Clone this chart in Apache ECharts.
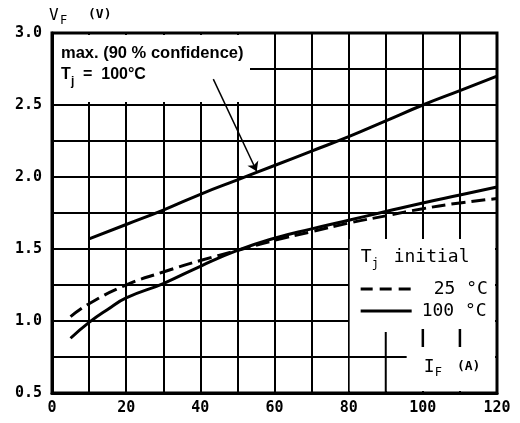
<!DOCTYPE html>
<html>
<head>
<meta charset="utf-8">
<script src="https://cdn.jsdelivr.net/npm/echarts@6/dist/echarts.min.js"></script>
<style>
  html, body { margin: 0; padding: 0; background: #fff; }
  #main { width: 520px; height: 423px; }
</style>
</head>
<body>
<div id="main"></div>
<script>
// forward current (A)
var maxIf = [10, 20, 30, 40, 50, 60, 70, 80, 90, 100, 110, 120];
var maxVf = [1.57, 1.67, 1.77, 1.88, 1.98, 2.08, 2.18, 2.28, 2.39, 2.50, 2.60, 2.70];

var if25 = [5, 10, 20, 30, 40, 50, 60, 70, 80, 90, 100, 110, 120];
var vf25 = [1.03, 1.12, 1.25, 1.34, 1.42, 1.49, 1.56, 1.62, 1.68, 1.73, 1.78, 1.82, 1.85];

var if100 = [5, 10, 15, 20, 30, 40, 50, 60, 70, 80, 90, 100, 110, 120];
var vf100 = [0.88, 0.99, 1.08, 1.16, 1.26, 1.38, 1.49, 1.575, 1.64, 1.70, 1.76, 1.82, 1.875, 1.93];

function pairs(xs, ys) {
    var out = [];
    for (var i = 0; i < xs.length; i++) {
        out.push([xs[i], ys[i]]);
    }
    return out;
}

var mono = 'DejaVu Sans Mono';
var sans = 'Liberation Sans';
var chart = echarts.init(document.getElementById('main'));

var option = {
    animation: false,
    grid: {
        left: 52, right: 23, top: 33, bottom: 30,
        show: true, borderColor: '#000', borderWidth: 3
    },
    xAxis: {
        type: 'value', min: 0, max: 120, interval: 10,
        axisLine: { lineStyle: { color: '#000', width: 3 } },
        axisTick: { show: false },
        splitLine: { lineStyle: { color: '#000', width: 2 } },
        axisLabel: {
            color: '#000', fontFamily: mono, fontSize: 15, fontWeight: 'bold', margin: 8,
            formatter: function (v) { return v % 20 === 0 ? String(v) : ''; }
        }
    },
    yAxis: {
        type: 'value', min: 0.5, max: 3.0, interval: 0.25,
        axisLine: { lineStyle: { color: '#000', width: 3 } },
        axisTick: { show: false },
        splitLine: { lineStyle: { color: '#000', width: 2 } },
        axisLabel: {
            color: '#000', fontFamily: mono, fontSize: 15, fontWeight: 'bold', margin: 10,
            formatter: function (v) {
                var r = Math.round(v * 100);
                return r % 50 === 0 ? (v.toFixed(1)) : '';
            }
        }
    },
    series: [
        {
            name: 'max', type: 'line', smooth: true, symbol: 'none', z: 10,
            lineStyle: { color: '#000', width: 3 },
            data: pairs(maxIf, maxVf),
            markLine: {
                silent: true, z: 20, symbol: ['none', 'arrow'], symbolSize: 9,
                lineStyle: { color: '#000', width: 1.5, type: 'solid' },
                label: { show: false },
                data: [[{ coord: [43.5, 2.68] }, { coord: [55.2, 2.04] }]]
            }
        },
        {
            name: '25', type: 'line', smooth: true, symbol: 'none', z: 10,
            lineStyle: { color: '#000', width: 3, type: [14, 6] },
            data: pairs(if25, vf25)
        },
        {
            name: '100', type: 'line', smooth: true, symbol: 'none', z: 10,
            lineStyle: { color: '#000', width: 3 },
            data: pairs(if100, vf100)
        }
    ]
};
chart.setOption(option);

// legend box and annotation texts, placed from the axes
function px(x, y) { return chart.convertToPixel({ gridIndex: 0 }, [x, y]); }
var a = px(80, 1.5), b = px(120, 0.5), c = px(0, 3.0);
var boxTop = a[1] - 10;
var stroke = { stroke: '#000', lineWidth: 2 };
var g90 = px(90, 0.5), g100 = px(100, 0.5), g110 = px(110, 0.5), h75 = px(80, 0.75);
var t = function (txt, x, y, font) {
    return { type: 'text', z: 6, left: x, top: y, style: { text: txt, font: font, fill: '#000' } };
};

chart.setOption({
    graphic: [
        { type: 'rect', z: 5, shape: { x: a[0] + 1, y: boxTop, width: b[0] - a[0] - 3, height: b[1] - boxTop - 2 }, style: { fill: '#fff' } },
        { type: 'rect', z: 5, shape: { x: c[0] + 2, y: c[1] + 2, width: 196, height: 67 }, style: { fill: '#fff' } },
        { type: 'line', z: 6, shape: { x1: h75[0], y1: h75[1], x2: h75[0] + 58, y2: h75[1] }, style: stroke },
        { type: 'line', z: 6, shape: { x1: g90[0], y1: g90[1] - 61, x2: g90[0], y2: g90[1] }, style: stroke },
        { type: 'line', z: 6, shape: { x1: g100[0], y1: g90[1] - 64, x2: g100[0], y2: g90[1] - 46 }, style: { stroke: '#000', lineWidth: 2.5 } },
        { type: 'line', z: 6, shape: { x1: g110[0], y1: g90[1] - 64, x2: g110[0], y2: g90[1] - 46 }, style: { stroke: '#000', lineWidth: 2.5 } },
        t('T', a[0] + 12, boxTop + 9, '18px ' + mono),
        t('j', a[0] + 23, boxTop + 19, '12px ' + mono),
        t('initial', a[0] + 45, boxTop + 9, '18px ' + mono),
        { type: 'line', z: 6, shape: { x1: a[0] + 12, y1: boxTop + 50, x2: a[0] + 62, y2: boxTop + 50 }, style: { stroke: '#000', lineWidth: 3, lineDash: [12, 7] } },
        t('25 \u00b0C', a[0] + 85, boxTop + 41, '18px ' + mono),
        { type: 'line', z: 6, shape: { x1: a[0] + 12, y1: boxTop + 72, x2: a[0] + 63, y2: boxTop + 72 }, style: { stroke: '#000', lineWidth: 3 } },
        t('100 \u00b0C', a[0] + 73, boxTop + 63, '18px ' + mono),
        t('I', g100[0] + 1, boxTop + 119, '18px ' + mono),
        t('F', g100[0] + 12, boxTop + 128, '12px ' + mono),
        t('(A)', g110[0] - 3, boxTop + 121, 'bold 13px ' + mono),

        t('V', 49, 8, '16px ' + mono),
        t('F', 60, 15, '12px ' + mono),
        t('(V)', 88, 8, 'bold 13px ' + mono),

        t('max. (90 % confidence)', 61, 45, 'bold 16.5px ' + sans),
        t('T', 61, 67, 'bold 16px ' + sans),
        t('j', 71, 76, 'bold 12px ' + sans),
        t('=  100\u00b0C', 83, 67, 'bold 16px ' + sans)
    ]
});
</script>
</body>
</html>
